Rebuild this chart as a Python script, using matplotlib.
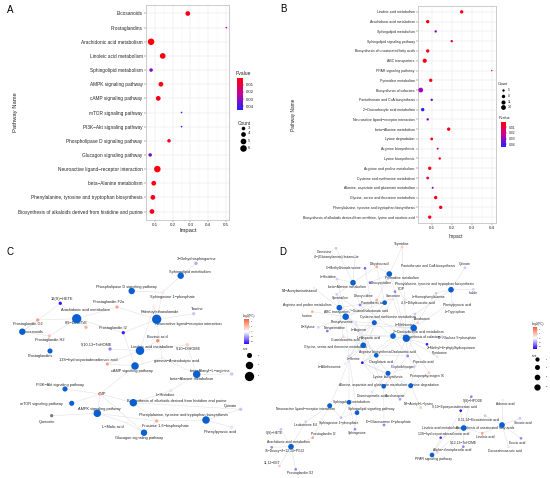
import numpy as np
import matplotlib
matplotlib.use('Agg')
import matplotlib.pyplot as plt
from matplotlib.colors import LinearSegmentedColormap, Normalize
from matplotlib.cm import ScalarMappable
from matplotlib.collections import LineCollection

plt.rcParams['font.family'] = ['Liberation Sans', 'DejaVu Sans']

W, H = 550, 478

# ---------------- panel A: enrichment dot plot ----------------
a_paths = ['Eicosanoids', 'Prostaglandins', 'Arachidonic acid metabolism',
           'Linoleic acid metabolism', 'Sphingolipid metabolism',
           'AMPK signaling pathway', 'cAMP signaling pathway',
           'mTOR signaling pathway', 'PI3K\u2212Akt signaling pathway',
           'Phospholipase D signaling pathway', 'Glucagon signaling pathway',
           'Neuroactive ligand\u2212receptor interaction', 'beta\u2212Alanine metabolism',
           'Phenylalanine, tyrosine and tryptophan biosynthesis',
           'Biosynthesis of alkaloids derived from histidine and purine']
a_impact = [0.285, 0.50, 0.080, 0.145, 0.080, 0.135, 0.120, 0.250, 0.250,
            0.180, 0.075, 0.115, 0.095, 0.090, 0.085]
a_pval = [0.004, 0.022, 0.002, 0.003, 0.034, 0.004, 0.004, 0.043, 0.043,
          0.006, 0.033, 0.002, 0.004, 0.005, 0.005]
a_count = [4, 2, 6, 5, 3, 4, 4, 2, 2, 3, 3, 6, 4, 4, 4]
a_ticks = [0.1, 0.2, 0.3, 0.4, 0.5]
a_legend_counts = [3, 4, 5, 6]

# ---------------- panel B: enrichment dot plot ----------------
b_paths = ['Linoleic acid metabolism', 'Arachidonic acid metabolism',
           'Sphingolipid metabolism', 'Sphingolipid signaling pathway',
           'Biosynthesis of unsaturated fatty acids', 'ABC transporters',
           'PPAR signaling pathway', 'Pyrimidine metabolism',
           'Biosynthesis of cofactors', 'Pantothenate and CoA biosynthesis',
           '2\u2212Oxocarboxylic acid metabolism',
           'Neuroactive ligand\u2212receptor interaction', 'beta\u2212Alanine metabolism',
           'Lysine degradation', 'Arginine biosynthesis', 'Lysine biosynthesis',
           'Arginine and proline metabolism', 'Cysteine and methionine metabolism',
           'Alanine, aspartate and glutamate metabolism',
           'Glycine, serine and threonine metabolism',
           'Phenylalanine, tyrosine and tryptophan biosynthesis',
           'Biosynthesis of alkaloids derived from ornithine, lysine and nicotinic acid']
b_impact = [0.250, 0.080, 0.120, 0.200, 0.080, 0.065, 0.400, 0.095, 0.045,
            0.100, 0.055, 0.080, 0.185, 0.100, 0.130, 0.140, 0.090, 0.080,
            0.105, 0.120, 0.145, 0.090]
b_pval = [0.003, 0.004, 0.030, 0.012, 0.005, 0.004, 0.015, 0.004, 0.028,
          0.033, 0.045, 0.033, 0.003, 0.004, 0.020, 0.004, 0.004, 0.012,
          0.032, 0.004, 0.004, 0.004]
b_count = [8, 8, 5, 5, 8, 11, 3, 8, 14, 5, 8, 5, 8, 6, 4, 5, 8, 6, 4, 8, 8, 8]
b_ticks = [0.1, 0.2, 0.3, 0.4]
b_legend_counts = [5, 8, 11, 14]

# ---------------- panel C: network ----------------
# (name, x, y, count, label x, label y)  layout
c_pathways = [
    ('Sphingolipid metabolism', 180.7, 275.7, 3, 190.0, 271.7),
    ('Phospholipase D signaling pathway', 131.7, 291.0, 3, 126.7, 286.7),
    ('Arachidonic acid metabolism', 76.7, 318.7, 6, 85.0, 310.0),
    ('Neuroactive ligand\u2212receptor interaction', 156.7, 319.3, 6, 188.3, 324.0),
    ('Eicosanoids', 22.3, 331.7, 3, 33.3, 331.7),
    ('Prostaglandins', 50.0, 351.0, 2, 40.0, 356.0),
    ('Linoleic acid metabolism', 140.0, 350.7, 5, 151.7, 346.7),
    ('cAMP signaling pathway', 135.0, 366.0, 4, 131.7, 371.0),
    ('beta\u2212Alanine metabolism', 196.7, 374.3, 4, 191.7, 378.7),
    ('PI3K\u2212Akt signaling pathway', 65.0, 389.0, 2, 60.0, 385.0),
    ('mTOR signaling pathway', 71.7, 403.3, 2, 41.7, 404.0),
    ('AMPK signaling pathway', 97.3, 413.3, 4, 99.0, 409.3),
    ('Biosynthesis of alkaloids derived from histidine and purine', 133.3, 402.7, 4, 176.7, 400.7),
    ('Phenylalanine, tyrosine and tryptophan biosynthesis', 206.0, 420.0, 4, 183.3, 415.0),
    ('Glucagon signaling pathway', 144.0, 432.7, 3, 139.0, 437.7),
]
# (name, x, y, log2FC, label x, label y); None = no fold change (grey)
c_metabolites = [
    ('3\u2212Dehydrosphinganine', 196.0, 263.3, -0.9, 196.7, 259.0),
    ('Sphingosine 1\u2212phosphate', 162.7, 292.3, 0.4, 172.7, 296.7),
    ('12(S)\u2212HETE', 60.3, 303.3, -2.4, 61.7, 299.0),
    ('Prostaglandin F2a', 117.0, 307.0, 1.5, 108.3, 302.3),
    ('Palmitoylethanolamide', 154.0, 306.0, 0.3, 160.0, 312.3),
    ('Taurine', 193.7, 313.7, -0.6, 197.7, 309.0),
    ('Prostaglandin G2', 37.7, 320.0, 1.6, 28.3, 324.3),
    ('8,9\u2212DiHETrE', 86.0, 327.3, 1.3, 76.0, 323.0),
    ('Prostaglandin I2', 123.3, 332.7, -2.3, 113.3, 328.3),
    ('Prostaglandin H2', 49.3, 336.0, 1.0, 50.0, 340.3),
    ('Bovinic acid', 157.7, 340.7, 2.0, 157.7, 337.0),
    ('9,10\u2212DiHOME', 187.3, 344.7, 0.8, 188.3, 349.0),
    ('9,10,13\u2212TriHOME', 110.0, 349.0, -1.3, 96.7, 345.0),
    ('13S\u2212hydroxyoctadecadienoic acid', 107.3, 364.0, 1.5, 88.3, 360.0),
    ('gamma\u2212Aminobutyric acid', 162.0, 358.0, 0.3, 176.7, 360.7),
    ('beta\u2212Alanyl\u2212L\u2212arginine', 231.7, 374.0, -0.6, 210.0, 370.7),
    ('L\u2212Histidine', 170.7, 390.7, 0.5, 165.0, 395.0),
    ('AMP', 100.0, 394.0, 1.4, 102.3, 394.0),
    ('Quinate', 240.7, 409.3, -0.6, 230.0, 405.7),
    ('Quercetin', 51.7, 415.7, None, 46.7, 421.7),
    ('L\u2212Malic acid', 127.3, 423.0, 0.3, 113.3, 427.3),
    ('Fructose 1,6\u2212bisphosphate', 156.7, 421.0, 1.4, 165.0, 425.7),
    ('Phenylpyruvic acid', 231.7, 427.3, -0.3, 220.0, 431.7),
]
c_edges = {
    'Sphingolipid metabolism': ['3\u2212Dehydrosphinganine', 'Sphingosine 1\u2212phosphate'],
    'Phospholipase D signaling pathway': ['Sphingosine 1\u2212phosphate'],
    'Arachidonic acid metabolism': ['12(S)\u2212HETE', 'Prostaglandin F2a', 'Prostaglandin G2',
                                    '8,9\u2212DiHETrE', 'Prostaglandin I2', 'Prostaglandin H2'],
    'Neuroactive ligand\u2212receptor interaction': ['Sphingosine 1\u2212phosphate', 'Prostaglandin F2a',
                                                    'Palmitoylethanolamide', 'Taurine',
                                                    'Prostaglandin I2', 'gamma\u2212Aminobutyric acid'],
    'Eicosanoids': ['Prostaglandin G2', 'Prostaglandin H2', '12(S)\u2212HETE'],
    'Prostaglandins': ['Prostaglandin H2'],
    'Linoleic acid metabolism': ['Bovinic acid', '9,10\u2212DiHOME', '9,10,13\u2212TriHOME',
                                 '13S\u2212hydroxyoctadecadienoic acid', 'Palmitoylethanolamide'],
    'cAMP signaling pathway': ['gamma\u2212Aminobutyric acid', 'AMP', '13S\u2212hydroxyoctadecadienoic acid',
                               'Prostaglandin I2'],
    'beta\u2212Alanine metabolism': ['beta\u2212Alanyl\u2212L\u2212arginine', 'L\u2212Histidine',
                                    'gamma\u2212Aminobutyric acid', '9,10\u2212DiHOME'],
    'PI3K\u2212Akt signaling pathway': ['AMP'],
    'mTOR signaling pathway': ['AMP'],
    'AMPK signaling pathway': ['AMP', 'Quercetin', 'L\u2212Malic acid', 'Fructose 1,6\u2212bisphosphate'],
    'Biosynthesis of alkaloids derived from histidine and purine': ['L\u2212Histidine', 'AMP', 'Quinate',
                                                                    'Fructose 1,6\u2212bisphosphate'],
    'Phenylalanine, tyrosine and tryptophan biosynthesis': ['Quinate', 'Phenylpyruvic acid',
                                                            'Fructose 1,6\u2212bisphosphate'],
    'Glucagon signaling pathway': ['L\u2212Malic acid', 'Fructose 1,6\u2212bisphosphate', 'AMP'],
}

# ---------------- panel D: network ----------------
d_pathways = [
    ('Pyrimidine metabolism', 389.3, 274.0, 8, 401.7, 278.3),
    ('beta\u2212Alanine metabolism', 353.0, 282.7, 8, 346.7, 286.7),
    ('Phenylalanine, tyrosine and tryptophan biosynthesis', 451.0, 289.7, 8, 434.3, 284.3),
    ('Pantothenate and CoA biosynthesis', 384.7, 302.7, 5, 428.3, 265.7),
    ('Arginine and proline metabolism', 339.3, 307.7, 8, 306.7, 305.0),
    ('ABC transporters', 345.7, 316.7, 11, 336.7, 311.7),
    ('Cysteine and methionine metabolism', 374.3, 322.7, 6, 388.3, 317.3),
    ('2\u2212Oxocarboxylic acid metabolism', 413.7, 328.0, 11, 418.3, 331.7),
    ('Biosynthesis of alkaloids derived from ornithine, lysine and nicotinic acid', 393.0, 336.0, 8, None, None),
    ('Biosynthesis of cofactors', 406.3, 338.3, 14, 421.7, 337.3),
    ('Glycine, serine and threonine metabolism', 363.3, 345.3, 8, 335.0, 346.7),
    ('Arginine biosynthesis', 376.3, 355.3, 5, 375.0, 351.7),
    ('Lysine biosynthesis', 388.0, 373.3, 6, 388.3, 376.7),
    ('Alanine, aspartate and glutamate metabolism', 383.7, 386.3, 5, 373.3, 385.0),
    ('Lysine degradation', 410.7, 385.7, 6, 424.0, 385.3),
    ('Sphingolipid metabolism', 349.0, 402.3, 5, 351.7, 402.0),
    ('Neuroactive ligand\u2212receptor interaction', 329.7, 405.7, 6, 305.0, 409.3),
    ('Sphingolipid signaling pathway', 357.0, 412.7, 5, 371.7, 409.0),
    ('Arachidonic acid metabolism', 291.0, 446.7, 8, 288.3, 442.3),
    ('Linoleic acid metabolism', 463.7, 428.0, 8, 440.0, 427.7),
    ('Biosynthesis of unsaturated fatty acids', 502.0, 425.0, 8, 485.5, 428.3),
    ('PPAR signaling pathway', 432.0, 455.0, 5, 433.3, 459.0),
]
d_metabolites = [
    ('Thymidine', 402.0, 247.0, 0.9, 402.0, 244.3),
    ('Carnosine', 336.0, 248.3, -0.6, 325.0, 251.7),
    ('4\u2212(Glutamylamino) butanoate', 355.0, 256.0, -0.3, 336.7, 257.3),
    ("5'\u2212Methylthioadenosine", 365.0, 268.3, -1.6, 343.3, 268.3),
    ('Dihydrouracil', 376.7, 266.7, 1.5, 380.0, 264.3),
    ('Quinate', 465.0, 267.7, -0.6, 465.0, 264.0),
    ('L\u2212Histidine', 337.0, 279.0, -0.5, 328.3, 276.7),
    ('Deoxycytidine', 370.0, 282.7, -1.6, 381.7, 283.3),
    ('CDP', 395.0, 291.7, -1.3, 401.7, 289.0),
    ('N4\u2212Acetylaminobutanal', 314.0, 288.0, -0.2, 300.0, 291.0),
    ('Spermidine', 336.7, 294.3, -0.5, 340.0, 298.3),
    ('Deoxyuridine', 376.7, 300.0, 1.3, 363.3, 295.7),
    ('Sarcosine', 393.0, 299.0, -0.3, 393.3, 296.0),
    ('Pantothenic acid', 360.0, 305.0, -1.3, 373.3, 303.3),
    ('L\u2212Homophenylalanine', 436.0, 293.3, -0.6, 428.3, 296.7),
    ('Indole', 473.3, 289.3, -0.5, 473.3, 293.5),
    ('4,5\u2212Dihydroorotic acid', 405.0, 300.0, -0.3, 418.3, 302.7),
    ('Phenylpyruvic acid', 452.0, 302.0, -0.2, 456.7, 305.0),
    ('L\u2212Tryptophan', 415.0, 314.0, -0.6, 455.0, 312.3),
    ('4\u2212Guanidinobutanoic acid', 350.0, 311.0, -0.2, 368.3, 310.7),
    ('Inosine', 312.3, 311.7, 1.3, 306.7, 315.7),
    ('Phosphoserine', 356.0, 322.0, -0.3, 341.7, 321.7),
    ('Anabasine', 417.7, 322.7, 0.8, 421.7, 319.3),
    ('L\u2212Methionine', 400.0, 327.0, -0.4, 405.0, 325.0),
    ('D\u2212Xylose', 318.3, 327.3, -0.5, 308.3, 327.3),
    ('Norspermidine', 327.3, 331.0, -1.4, 335.0, 328.3),
    ('L\u2212Arginine', 356.0, 325.0, -0.3, 359.3, 330.0),
    ('Guanidoacetic acid', 343.3, 336.7, 0.7, 345.0, 340.0),
    ('L\u2212Aspartic acid', 360.0, 335.0, -0.2, 368.3, 337.7),
    ('D\u2212Ribulose 5\u2212phosphate', 441.7, 336.7, -0.5, 456.7, 338.3),
    ('2\u2212Methyl\u22126\u2212phytylhydroquinone', 427.0, 344.3, -2.3, 451.7, 347.7),
    ('Pyridoxine', 437.3, 356.7, -0.3, 440.0, 353.3),
    ('Oxaloacetic acid', 407.7, 356.0, -1.3, 403.3, 352.0),
    ('Oxoglutaric acid', 362.3, 362.7, -2.4, 380.7, 362.3),
    ('L\u2212Serine', 349.0, 356.0, -0.4, 353.3, 359.0),
    ('L\u2212Allothreonine', 345.0, 364.0, -0.2, 330.0, 366.7),
    ('Pipecolic acid', 415.0, 366.0, -0.4, 423.3, 361.7),
    ('Porphobilinogen', 393.0, 366.0, -0.6, 403.3, 367.3),
    ('Protoporphyrinogen IX', 429.0, 372.7, 0.8, 426.7, 376.0),
    ('Diaminopimelic acid', 372.0, 392.0, -0.3, 371.7, 395.7),
    ('Saccharopine', 400.0, 399.3, -1.0, 395.0, 395.7),
    ('N6\u2212Acetyl\u2212L\u2212lysine', 420.7, 407.7, 0.8, 419.0, 403.8),
    ('9(S)\u2212HPODE', 471.3, 396.7, -1.3, 473.3, 400.7),
    ('9,10\u2212Epoxyoctadecenoic acid', 460.7, 410.7, -2.4, 454.5, 407.0),
    ('Adrenic acid', 503.0, 400.0, -0.2, 505.0, 404.3),
    ('8,11,14\u2212Eicosatrienoic acid', 485.0, 415.7, -0.6, 479.0, 420.0),
    ('Stearic acid', 520.0, 418.3, -0.6, 523.3, 422.7),
    ('Linoleic acid', 482.3, 433.3, 1.6, 485.0, 436.7),
    ('13S\u2212hydroxyoctadecadienoic acid', 440.7, 437.7, -2.0, 443.3, 433.7),
    ('9,12,13\u2212TriHOME', 463.3, 446.7, -1.3, 463.3, 442.7),
    ('Erucic acid', 521.0, 438.3, -1.2, 516.7, 443.3),
    ('Docosahexaenoic acid', 508.3, 446.7, -0.3, 505.0, 450.7),
    ('Alpha\u2212dimorphecolic acid', 437.3, 452.3, 0.8, 451.7, 450.0),
    ('Leukotriene E4', 305.7, 421.7, -0.5, 305.0, 425.0),
    ('Sphingosine 1\u2212phosphate', 341.0, 417.7, -0.7, 338.3, 423.3),
    ('D\u2212Glucosamine 6\u2212phosphate', 384.0, 425.0, -1.3, 388.3, 421.7),
    ('Sphingosine', 355.0, 429.3, -1.2, 356.7, 433.3),
    ('Prostaglandin I2', 312.7, 437.7, 1.5, 323.3, 434.0),
    ('9(S)\u2212HETE', 281.0, 429.3, -0.6, 274.5, 433.3),
    ('15\u2212Deoxy\u2212\u03b4\u221212,14\u2212PGJ2', 271.7, 447.3, -1.2, 284.7, 450.7),
    ('11,12\u2212EET', 279.3, 466.0, 0.8, 271.7, 462.7),
    ('Prostaglandin G2', 295.7, 469.3, -1.3, 300.0, 472.7),
]
d_edges = {
    'Pyrimidine metabolism': ['Thymidine', 'Dihydrouracil', 'Deoxycytidine', 'CDP',
                              'Deoxyuridine', '4,5\u2212Dihydroorotic acid'],
    'beta\u2212Alanine metabolism': ['Carnosine', 'L\u2212Histidine', 'Dihydrouracil', 'Spermidine',
                                    'Pantothenic acid', '4\u2212(Glutamylamino) butanoate'],
    'Phenylalanine, tyrosine and tryptophan biosynthesis': ['Quinate', 'Indole', 'Phenylpyruvic acid',
                                                            'L\u2212Tryptophan', 'L\u2212Homophenylalanine'],
    'Pantothenate and CoA biosynthesis': ['Pantothenic acid', 'Dihydrouracil', 'L\u2212Aspartic acid'],
    'Arginine and proline metabolism': ['N4\u2212Acetylaminobutanal', 'Spermidine', '4\u2212Guanidinobutanoic acid',
                                        'L\u2212Arginine', 'Guanidoacetic acid', 'Sarcosine'],
    'ABC transporters': ['Inosine', 'D\u2212Xylose', 'L\u2212Arginine', 'L\u2212Histidine', 'Spermidine',
                         'L\u2212Aspartic acid', 'Sarcosine', 'Deoxyuridine', 'Phosphoserine',
                         'Norspermidine', 'L\u2212Serine'],
    'Cysteine and methionine metabolism': ["5'\u2212Methylthioadenosine", 'L\u2212Methionine', 'L\u2212Serine',
                                           'Phosphoserine', 'L\u2212Aspartic acid', 'Oxoglutaric acid'],
    '2\u2212Oxocarboxylic acid metabolism': ['L\u2212Homophenylalanine', 'L\u2212Methionine',
                                           'Phenylpyruvic acid', 'Oxoglutaric acid', 'Oxaloacetic acid',
                                           'L\u2212Tryptophan', 'L\u2212Arginine'],
    'Biosynthesis of alkaloids derived from ornithine, lysine and nicotinic acid': [
        'Anabasine', 'Pipecolic acid', 'L\u2212Aspartic acid', 'Oxoglutaric acid', 'Spermidine'],
    'Biosynthesis of cofactors': ['CDP', 'Pantothenic acid', '2\u2212Methyl\u22126\u2212phytylhydroquinone',
                                  'Pyridoxine', 'D\u2212Ribulose 5\u2212phosphate', 'Protoporphyrinogen IX',
                                  'Porphobilinogen', 'Oxaloacetic acid', 'L\u2212Aspartic acid',
                                  'L\u2212Tryptophan', 'Thymidine', 'Sarcosine'],
    'Glycine, serine and threonine metabolism': ['Guanidoacetic acid', 'L\u2212Serine', 'Phosphoserine',
                                                 'L\u2212Allothreonine', 'Sarcosine', 'L\u2212Aspartic acid'],
    'Arginine biosynthesis': ['L\u2212Arginine', 'L\u2212Aspartic acid', 'Oxoglutaric acid', 'Oxaloacetic acid'],
    'Lysine biosynthesis': ['Oxoglutaric acid', 'Saccharopine', 'Diaminopimelic acid',
                            'L\u2212Aspartic acid', 'Pipecolic acid'],
    'Alanine, aspartate and glutamate metabolism': ['Oxoglutaric acid', 'L\u2212Aspartic acid',
                                                    'D\u2212Glucosamine 6\u2212phosphate', 'Oxaloacetic acid'],
    'Lysine degradation': ['Saccharopine', 'N6\u2212Acetyl\u2212L\u2212lysine', 'Pipecolic acid',
                           'Oxoglutaric acid', 'Protoporphyrinogen IX'],
    'Sphingolipid metabolism': ['Sphingosine 1\u2212phosphate', 'Sphingosine', 'L\u2212Serine'],
    'Neuroactive ligand\u2212receptor interaction': ['Leukotriene E4', 'Sphingosine 1\u2212phosphate',
                                                    'Prostaglandin I2', 'L\u2212Aspartic acid'],
    'Sphingolipid signaling pathway': ['Sphingosine 1\u2212phosphate', 'Sphingosine', 'L\u2212Serine'],
    'Arachidonic acid metabolism': ['9(S)\u2212HETE', '15\u2212Deoxy\u2212\u03b4\u221212,14\u2212PGJ2',
                                    '11,12\u2212EET', 'Prostaglandin G2', 'Prostaglandin I2', 'Leukotriene E4'],
    'Linoleic acid metabolism': ['9(S)\u2212HPODE', '9,10\u2212Epoxyoctadecenoic acid', 'Linoleic acid',
                                 '13S\u2212hydroxyoctadecadienoic acid', '9,12,13\u2212TriHOME',
                                 'Alpha\u2212dimorphecolic acid'],
    'Biosynthesis of unsaturated fatty acids': ['Adrenic acid', '8,11,14\u2212Eicosatrienoic acid',
                                                'Stearic acid', 'Linoleic acid', 'Erucic acid',
                                                'Docosahexaenoic acid'],
    'PPAR signaling pathway': ['13S\u2212hydroxyoctadecadienoic acid', 'Alpha\u2212dimorphecolic acid',
                               '9(S)\u2212HPODE'],
}
c_size_legend = [2, 4, 6]
d_size_legend = [4, 6, 8, 10]
fc_ticks = [-2, -1, 0, 1, 2]

# ---------------- styling ----------------
pcmap = LinearSegmentedColormap.from_list('pv', ['#FF0000', '#C8009A', '#2323FF'])
pnorm = Normalize(0.0005, 0.045)
fccmap = LinearSegmentedColormap.from_list('fc', ['#2600FF', '#FFFFFF', '#F6623C'])
fcnorm = Normalize(-2.6, 2.6)
PATH_BLUE = '#0A5FD0'
TXT = '#262626'


def px_box(left, top, right, bottom):
    return [left / W, 1 - bottom / H, (right - left) / W, (bottom - top) / H]


def s_px(d):
    # pixel diameter -> scatter area in pt^2
    return (d * 72 / 100) ** 2


def a_size(c):
    return 1.6 if c <= 2 else np.sqrt((c - 2) * 10 + 2.5)


def b_size(c):
    return np.sqrt(2 + (c - 3) * 1.9)


def c_size(c):
    return np.sqrt(max(-4.2 + 15.1 * c, 9))


def d_size(c):
    return np.sqrt(3.8 + 3.54 * c)


fig = plt.figure(figsize=(W / 100, H / 100), dpi=100)

# overlay axes in pixel coordinates for networks and legends
ov = fig.add_axes([0, 0, 1, 1])
ov.set_xlim(0, W)
ov.set_ylim(H, 0)
ov.axis('off')
ov.patch.set_alpha(0)


def dot_panel(box, paths, impact, pval, count, xlim, ticks, size_fn, fs):
    ax = fig.add_axes(box)
    y = np.arange(len(paths))
    ax.scatter(impact, y, s=[s_px(size_fn(c)) for c in count], c=pval,
               cmap=pcmap, norm=pnorm, linewidths=0, zorder=3)
    ax.set_xlim(*xlim)
    ax.set_ylim(len(paths) - 0.4, -0.6)
    ax.set_yticks(y)
    ax.set_yticklabels(paths, fontsize=fs, color=TXT)
    ax.set_xticks(ticks)
    ax.set_xticklabels([f'{t:g}' for t in ticks], fontsize=3.2, color=TXT)
    ax.set_xticks([t + 0.05 for t in ticks[:-1]] + [ticks[0] - 0.05], minor=True)
    ax.grid(True, which='major', color='#E6E6E6', lw=0.35)
    ax.grid(True, which='minor', axis='x', color='#F2F2F2', lw=0.3)
    ax.set_axisbelow(True)
    for sp in ax.spines.values():
        sp.set_color('#C4C4C4')
        sp.set_linewidth(0.6)
    ax.tick_params(which='major', length=1.3, width=0.3, pad=1, color='#444444')
    ax.tick_params(which='minor', length=0)
    return ax


dot_panel(px_box(145.7, 5, 229, 220), a_paths, a_impact, a_pval, a_count,
          (0.054, 0.515), a_ticks, a_size, 3.4)
dot_panel(px_box(418, 6, 496, 223), b_paths, b_impact, b_pval, b_count,
          (0.0315, 0.4215), b_ticks, b_size, 2.55)

# axis titles and panel letters
fig.text(188 / W, 1 - 231 / H, 'Impact', fontsize=4.2, ha='center', va='center', color=TXT)
fig.text(15.7 / W, 1 - 112 / H, 'Pathway Name', fontsize=4.2, rotation=90,
         ha='center', va='center', color=TXT)
fig.text(456 / W, 1 - 236 / H, 'Impact', fontsize=3.4, ha='center', va='center', color=TXT)
fig.text(293 / W, 1 - 115 / H, 'Pathway Name', fontsize=3.4, rotation=90,
         ha='center', va='center', color=TXT)
for letter, x, y in [('A', 10, 10), ('B', 283, 9), ('C', 10, 252), ('D', 283, 252)]:
    fig.text(x / W, 1 - y / H, letter, fontsize=7, ha='center', va='center')


def pvalue_bar(left, top, right, bottom, fs):
    cax = fig.add_axes(px_box(left, top, right, bottom))
    cb = fig.colorbar(ScalarMappable(pnorm, pcmap), cax=cax)
    cax.invert_yaxis()
    cb.set_ticks([0.01, 0.02, 0.03, 0.04])
    cb.ax.tick_params(labelsize=fs, length=1, width=0.3, pad=1, colors=TXT)
    cb.outline.set_visible(False)


def count_legend(x, y0, counts, ys, size_fn, fs):
    ov.text(x - 2, y0, 'Count', fontsize=fs + 0.4, ha='left', va='center', color=TXT)
    for c, yy in zip(counts, ys):
        ov.scatter([x + 3], [yy], s=s_px(size_fn(c)), color='black', linewidths=0)
        ov.text(x + 8, yy, str(c), fontsize=fs, ha='left', va='center', color=TXT)


ov.text(236, 73, 'Pvalue', fontsize=3.6, ha='left', va='center', color=TXT)
pvalue_bar(237.3, 77.7, 243.3, 110, 3.1)
count_legend(240, 123, a_legend_counts, [127.5, 133.5, 140.5, 148], a_size, 3.1)

count_legend(500, 84, b_legend_counts, [90.3, 96.3, 101.7, 107], b_size, 2.4)
ov.text(498.5, 117.5, 'Pvalue', fontsize=2.8, ha='left', va='center', color=TXT)
pvalue_bar(501, 122, 506, 147, 2.4)


def draw_net(paths, mets, edges, size_fn, fs):
    pos = {p[0]: (p[1], p[2]) for p in paths}
    pos.update({m[0]: (m[1], m[2]) for m in mets})
    segs = [[pos[p], pos[m]] for p, ms in edges.items() for m in ms]
    ov.add_collection(LineCollection(segs, colors='#DEDEDE', linewidths=0.35, zorder=1))
    for name, x, y, _, lx, ly in list(paths) + list(mets):
        if lx is not None:
            ov.text(lx, ly, name, fontsize=fs, ha='center', va='center', color=TXT, zorder=2)
    mc = [('#7A7A7A' if fc is None else fccmap(fcnorm(fc))) for _, _, _, fc, _, _ in mets]
    ov.scatter([m[1] for m in mets], [m[2] for m in mets], s=s_px(size_fn(1)),
               c=mc, linewidths=0, zorder=3)
    ov.scatter([p[1] for p in paths], [p[2] for p in paths],
               s=[s_px(size_fn(p[3])) for p in paths], color=PATH_BLUE,
               linewidths=0, zorder=4)


draw_net(c_pathways, c_metabolites, c_edges, c_size, 2.75)
draw_net(d_pathways, d_metabolites, d_edges, d_size, 2.45)


def fc_legend(left, top, right, bottom, size_title_y, xs, ys, sizes, size_fn):
    ov.text(left - 1, top - 3, 'Log2(FC)', fontsize=2.2, ha='left', va='center', color=TXT)
    cax = fig.add_axes(px_box(left, top, right, bottom))
    cb = fig.colorbar(ScalarMappable(fcnorm, fccmap), cax=cax)
    cb.set_ticks(fc_ticks)
    cb.ax.tick_params(labelsize=1.6, length=0.8, width=0.2, pad=0.6, colors=TXT)
    cb.outline.set_visible(False)
    ov.text(left - 1, size_title_y, 'size', fontsize=2.2, ha='left', va='center', color=TXT)
    for c, yy in zip(sizes, ys):
        ov.scatter([xs], [yy], s=s_px(size_fn(c)), color='black', linewidths=0, zorder=5)
        ov.text(xs + 9, yy, str(c), fontsize=1.6, ha='left', va='center', color=TXT)


fc_legend(244, 319, 249.3, 344.3, 349, 248.8, [355, 364.5, 376], c_size_legend, c_size)
fc_legend(532.7, 327.3, 536.7, 349, 355.7, 537.3, [359, 367, 376.7, 386.7],
          d_size_legend, d_size)

fig.savefig('out.png', dpi=100)
